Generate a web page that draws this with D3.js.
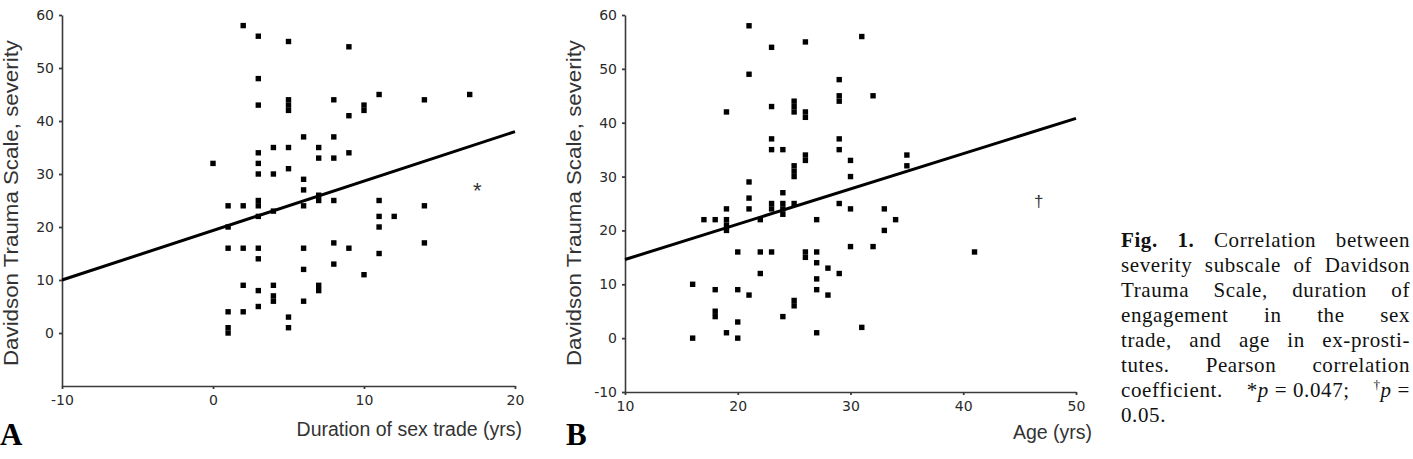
<!DOCTYPE html>
<html>
<head>
<meta charset="utf-8">
<script src="https://cdn.jsdelivr.net/npm/d3@7"></script>
<style>
  html, body { margin: 0; padding: 0; background: #fff; }
  svg { display: block; }
</style>
</head>
<body>
<svg id="chart" width="1413" height="459"></svg>
<script>
// ---------- DATA ----------
// Panel A: duration of sex trade (yrs) vs DTS severity
const durationA = [
  0,
  1, 1, 1, 1, 1, 1,
  2, 2, 2, 2, 2,
  3, 3, 3, 3, 3, 3, 3, 3, 3, 3, 3, 3, 3,
  4, 4, 4, 4, 4, 4,
  5, 5, 5, 5, 5, 5, 5, 5,
  6, 6, 6, 6, 6, 6, 6,
  7, 7, 7, 7, 7, 7,
  8, 8, 8, 8, 8, 8,
  9, 9, 9, 9,
  10, 10, 10,
  11, 11, 11, 11, 11,
  12,
  14, 14, 14,
  17
];
const severityA = [
  32,
  24, 20, 16, 4, 1, 0,
  58, 24, 16, 9, 4,
  56, 48, 43, 34, 32, 30, 25, 24, 22, 16, 14, 8, 5,
  35, 30, 23, 9, 7, 6,
  55, 44, 43, 42, 35, 31, 3, 1,
  37, 29, 27, 24, 16, 12, 6,
  35, 33, 26, 25, 9, 8,
  44, 37, 33, 25, 17, 13,
  54, 41, 34, 16,
  43, 42, 11,
  45, 25, 22, 20, 15,
  22,
  44, 24, 17,
  45
];
// Panel B: age (yrs) vs DTS severity
const ageB = [
  16, 16,
  17,
  18, 18, 18, 18,
  19, 19, 19, 19, 19, 19,
  20, 20, 20, 20,
  21, 21, 21, 21, 21, 21,
  22, 22, 22,
  23, 23, 23, 23, 23, 23, 23,
  24, 24, 24, 24, 24, 24,
  25, 25, 25, 25, 25, 25, 25, 25, 25,
  26, 26, 26, 26, 26, 26, 26,
  27, 27, 27, 27, 27, 27,
  28, 28,
  29, 29, 29, 29, 29, 29, 29,
  30, 30, 30, 30,
  31, 31,
  32, 32,
  33, 33,
  34,
  35, 35,
  41
];
const severityB = [
  10, 0,
  22,
  22, 9, 5, 4,
  42, 24, 22, 21, 20, 1,
  16, 9, 3, 0,
  58, 49, 29, 26, 24, 8,
  22, 16, 12,
  54, 43, 37, 35, 25, 24, 16,
  35, 27, 25, 24, 23, 4,
  44, 43, 42, 32, 31, 30, 25, 7, 6,
  55, 42, 41, 34, 33, 16, 15,
  22, 16, 14, 11, 9, 1,
  13, 8,
  48, 45, 44, 37, 35, 25, 12,
  33, 30, 24, 17,
  56, 2,
  45, 17,
  24, 20,
  22,
  34, 32,
  16
];
// regression line end points (data units)
const fitA = [[-10, 10], [20, 38]];
const fitB = [[10, 14.6], [50, 40.8]];
// significance marks (data units)
const markA = { x: 17.5, y: 27.9, label: "*" };
const markB = { x: 46.7, y: 25.6, label: "\u2020" };

// ticks and labels
const xTicksA = [-10, 0, 10, 20];
const yTicksA = [0, 10, 20, 30, 40, 50, 60];
const xTicksB = [10, 20, 30, 40, 50];
const yTicksB = [-10, 0, 10, 20, 30, 40, 50, 60];
const yTitle = "Davidson Trauma Scale, severity";
const xTitleA = "Duration of sex trade (yrs)";
const xTitleB = "Age (yrs)";
const panelLabels = ["A", "B"];
const captionLines = [
  "{b|Fig.} {b|1.} Correlation between",
  "severity subscale of Davidson",
  "Trauma Scale, duration of",
  "engagement in the sex",
  "trade, and age in ex-prosti-",
  "tutes. Pearson correlation",
  "coefficient. *{i|p}\u00a0=\u00a00.047; {s|\u2020}{i|p}\u00a0=",
  "0.05."
];

// ---------- DRAW ----------
const svg = d3.select("#chart");
svg.append("rect").attr("width", 1413).attr("height", 459).attr("fill", "#fff");

const sans = "'Liberation Sans', Arial, sans-serif";
const tickFont = "'DejaVu Sans', sans-serif";
const serif = "'Liberation Serif', 'Times New Roman', serif";
const fmt = d => String(d);

function panel(cfg) {
  const x = d3.scaleLinear().domain(cfg.xDomain).range(cfg.xRange);
  const y = d3.scaleLinear().domain([-10, 60]).range(cfg.yRange);
  const g = svg.append("g");

  const ax = g.append("g")
    .attr("transform", `translate(0,${cfg.yRange[0]})`)
    .call(d3.axisBottom(x).tickValues(cfg.xTicks).tickFormat(fmt)
      .tickSize(3).tickSizeOuter(0).tickPadding(6));
  const ay = g.append("g")
    .attr("transform", `translate(${cfg.xRange[0]},0)`)
    .call(d3.axisLeft(y).tickValues(cfg.yTicks).tickFormat(fmt)
      .tickSize(3).tickSizeOuter(0).tickPadding(5));
  [ax, ay].forEach(a => {
    a.attr("font-size", null).attr("font-family", null);
    a.select(".domain").attr("stroke", "#3a3a3a").attr("stroke-width", 1.6);
    a.selectAll(".tick line").attr("stroke", "#3a3a3a").attr("stroke-width", 1.8);
    a.selectAll(".tick text").attr("fill", "#2a2a2a")
      .style("font-family", tickFont).style("font-size", "14px");
  });

  // regression line
  g.append("line")
    .attr("x1", x(cfg.fit[0][0])).attr("y1", y(cfg.fit[0][1]))
    .attr("x2", x(cfg.fit[1][0])).attr("y2", y(cfg.fit[1][1]))
    .attr("stroke", "#000").attr("stroke-width", 3);

  // points
  const s = 5.4;
  g.selectAll("rect.pt").data(cfg.xs.map((v, i) => [v, cfg.ys[i]]))
    .enter().append("rect").attr("class", "pt")
    .attr("x", d => x(d[0]) - s / 2).attr("y", d => y(d[1]) - s / 2)
    .attr("width", s).attr("height", s).attr("fill", "#000");

  // significance mark
  g.append("text")
    .attr("x", x(cfg.mark.x)).attr("y", y(cfg.mark.y))
    .attr("dy", cfg.markDy)
    .attr("text-anchor", "middle")
    .attr("fill", "#333")
    .style("font-family", sans).style("font-size", cfg.markSize)
    .text(cfg.mark.label);

  // y title
  g.append("text")
    .attr("transform", `translate(${cfg.yTitleX},203) rotate(-90)`)
    .attr("text-anchor", "middle")
    .attr("dy", "0.35em")
    .attr("textLength", 326).attr("lengthAdjust", "spacingAndGlyphs")
    .attr("fill", "#333")
    .style("font-family", sans).style("font-size", "20px")
    .text(yTitle);

  // x title
  g.append("text")
    .attr("x", cfg.xTitleRight).attr("y", cfg.xTitleY)
    .attr("text-anchor", "end")
    .attr("fill", "#333")
    .style("font-family", sans).style("font-size", "19.5px")
    .text(cfg.xTitle);

  // panel letter
  g.append("text")
    .attr("x", cfg.letterX).attr("y", 445)
    .attr("fill", "#000")
    .style("font-family", serif).style("font-size", "31px").style("font-weight", "bold")
    .text(cfg.letter);
}

panel({
  xDomain: [-10, 20], xRange: [62, 515], yRange: [386, 15],
  xTicks: xTicksA, yTicks: yTicksA, xs: durationA, ys: severityA,
  fit: fitA, mark: markA, markDy: "0.6em", markSize: "22px",
  yTitleX: 11, xTitle: xTitleA, xTitleRight: 522, xTitleY: 436,
  letter: panelLabels[0], letterX: 0
});
panel({
  xDomain: [10, 50], xRange: [625, 1076], yRange: [392, 15],
  xTicks: xTicksB, yTicks: yTicksB, xs: ageB, ys: severityB,
  fit: fitB, mark: markB, markDy: "0.38em", markSize: "17px",
  yTitleX: 574, xTitle: xTitleB, xTitleRight: 1092, xTitleY: 439,
  letter: panelLabels[1], letterX: 566
});

// ---------- CAPTION ----------
const capX = 1121, capW = 289, capY0 = 247, capLH = 25;
const capSize = 21;
const capG = svg.append("g");
function parseWord(w) {
  const segs = [];
  const re = /\{(\w)\|([^}]*)\}|([^{]+)/g;
  let m;
  while ((m = re.exec(w)) !== null) {
    if (m[3] !== undefined) segs.push({ t: m[3], s: "n" });
    else segs.push({ t: m[2], s: m[1] });
  }
  return segs;
}
captionLines.forEach((line, li) => {
  const words = line.split(" ");
  const y = capY0 + li * capLH;
  const nodes = words.map(w => {
    const t = capG.append("text").attr("y", y).attr("fill", "#111")
      .style("font-family", serif).style("font-size", capSize + "px")
      .style("letter-spacing", "0.6px");
    let shifted = false;
    parseWord(w).forEach(seg => {
      const ts = t.append("tspan").text(seg.t);
      if (seg.s === "b") ts.style("font-weight", "bold");
      if (seg.s === "i") ts.style("font-style", "italic");
      if (seg.s === "s") { ts.style("font-size", "13px").attr("dy", -8); shifted = true; }
      else if (shifted) { ts.attr("dy", 8); shifted = false; }
    });
    return t;
  });
  const widths = nodes.map(n => n.node().getBBox().width);
  const total = d3.sum(widths);
  const last = li === captionLines.length - 1;
  const gap = (last || nodes.length < 2) ? 6 : (capW - total) / (nodes.length - 1);
  let cx = capX;
  nodes.forEach((n, i) => { n.attr("x", cx); cx += widths[i] + gap; });
});
</script>
</body>
</html>
